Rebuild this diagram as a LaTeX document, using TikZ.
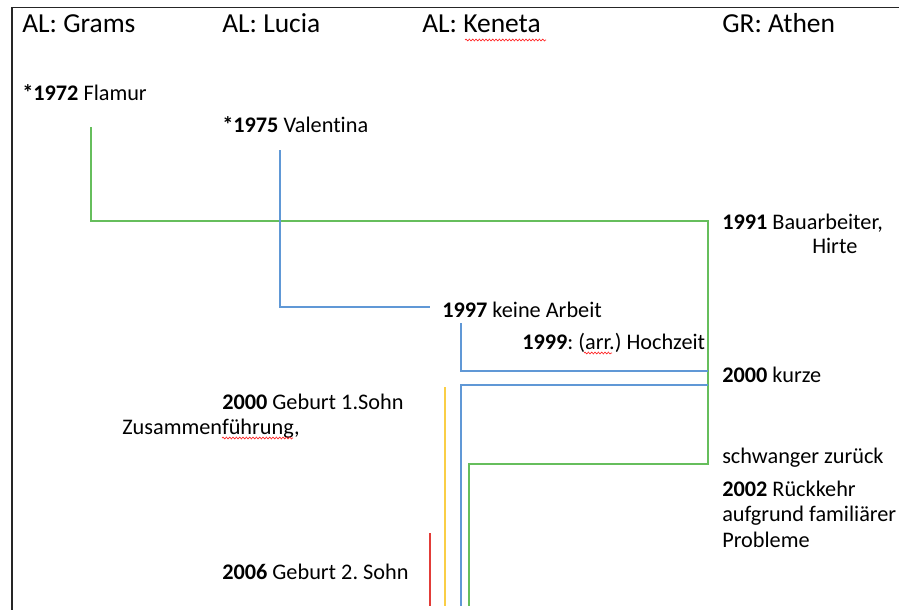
\documentclass[tikz,border=0pt]{standalone}
\usepackage{fontspec}
\setmainfont[Ligatures={NoCommon}]{Carlito}
\usepackage{tikz}
\usetikzlibrary{decorations.pathmorphing}
\usepackage{xcolor}
\definecolor{lgreen}{RGB}{102,190,92}
\definecolor{lblue}{RGB}{96,152,214}
\definecolor{lyellow}{RGB}{250,206,70}
\definecolor{lred}{RGB}{226,60,56}
\frenchspacing

\begin{document}
\begin{tikzpicture}[x=0.75pt, y=-0.75pt,
    place/.style={anchor=base west, inner sep=0pt, font=\fontsize{20.6}{24}\selectfont},
    event/.style={anchor=base west, inner sep=0pt, font=\fontsize{16.7}{20}\selectfont},
    path/.style={line width=1.5pt},
    squiggle/.style={red!85, line width=0.5pt, decorate, decoration={snake, amplitude=0.7pt, segment length=2.5pt}}]
    \useasboundingbox (0,0) rectangle (899,610);
    \draw[line width=1.4pt, black!85] (12,610) -- (12,7.5) -- (899,7.5);

    % Places
    \node[place] (grams) at (22,33) {AL: Grams};
    \node[place] (lucia) at (222,33) {AL: Lucia};
    \node[place] (keneta) at (422,33) {AL: Keneta};
    \node[place] (athen) at (722,33) {GR: Athen};

    % Events
    \node[event] (flamur) at (22,100) {\textbf{*1972} Flamur};
    \node[event] (valentina) at (222,132) {\textbf{*1975} Valentina};
    \node[event] (bau) at (722,229) {\textbf{1991} Bauarbeiter,};
    \node[event] (hirte) at (812,253) {Hirte};
    \node[event] (arbeit) at (442,317) {\textbf{1997} keine Arbeit};
    \node[event] (hochzeit) at (522,349) {\textbf{1999}: (arr.) Hochzeit};
    \node[event] (kurze) at (722,382) {\textbf{2000} kurze};
    \node[event] (sohn1) at (222,409) {\textbf{2000} Geburt 1.Sohn};
    \node[event] (zusammen) at (122,434) {Zusammenführung,};
    \node[event] (zurueck) at (722,463) {schwanger zurück};
    \node[event] (rueckkehr) at (722,496) {\textbf{2002} Rückkehr};
    \node[event] (grund) at (722,521) {aufgrund familiärer};
    \node[event] (probleme) at (722,547) {Probleme};
    \node[event] (sohn2) at (222,579) {\textbf{2006} Geburt 2. Sohn};

    % Spelling marks
    \draw[squiggle] (465,40) -- (546,40);
    \draw[squiggle] (584,353) -- (612,353);
    \draw[squiggle] (222,438) -- (293,438);

    % Flamur (green)
    \coordinate (g0) at (91,127);
    \coordinate (g1) at (469,606);
    \draw[path, lgreen] (g0) |- (708,221) |- (469,464) -- (g1);

    % Valentina (blue)
    \coordinate (b0) at (280,150);
    \coordinate (b1) at (430,307);
    \draw[path, lblue] (b0) |- (b1);
    \coordinate (b2) at (461,323);
    \coordinate (b3) at (708,371);
    \draw[path, lblue] (b2) |- (b3);
    \coordinate (b4) at (708,385);
    \coordinate (b5) at (461,606);
    \draw[path, lblue] (b4) -| (b5);

    % Sons
    \coordinate (y0) at (445,387);
    \coordinate (y1) at (445,606);
    \draw[path, lyellow] (y0) -- (y1);
    \coordinate (r0) at (430,533);
    \coordinate (r1) at (430,606);
    \draw[path, lred] (r0) -- (r1);

\end{tikzpicture}
\end{document}
